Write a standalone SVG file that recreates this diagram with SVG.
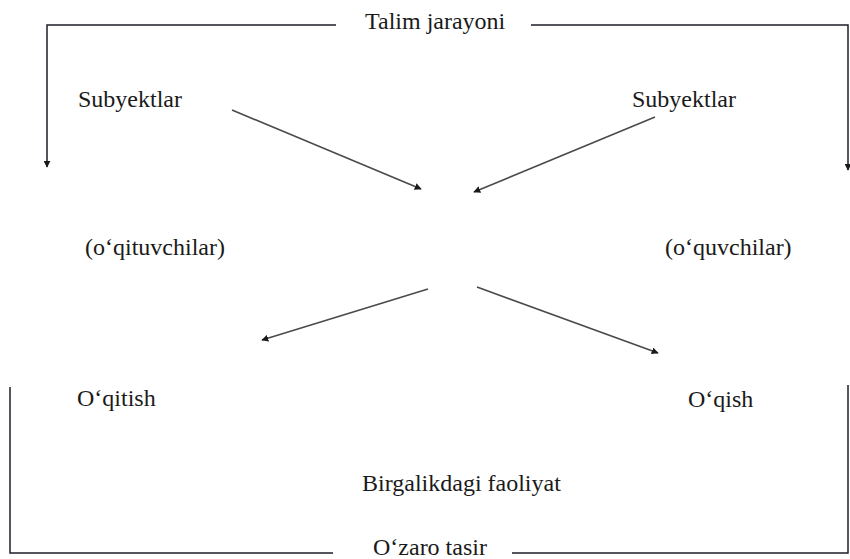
<svg xmlns="http://www.w3.org/2000/svg" width="850" height="559" viewBox="0 0 850 559">
<style>
text{font-family:'Liberation Serif','DejaVu Serif','Times New Roman',serif;font-size:24px;fill:#1a1a1a}
.frame{fill:none;stroke:#1e1e2a;stroke-width:1.5}
.conn{fill:none;stroke:#4a4a4a;stroke-width:1.6}
</style>
<defs>
<marker id="ah" viewBox="0 0 10 10" refX="9" refY="5" markerWidth="7" markerHeight="7" markerUnits="userSpaceOnUse" orient="auto">
<path d="M0,0 L10,5 L0,10 z" fill="#1a1a1a"/>
</marker>
</defs>
<rect width="850" height="559" fill="#fff"/>
<g id="connectors">
<path class="frame" d="M336,25 H47 V167" marker-end="url(#ah)"/>
<path class="frame" d="M531,25 H848 V170" marker-end="url(#ah)"/>
<path class="frame" d="M333,553 H10 V387"/>
<path class="frame" d="M512,553 H848 V385"/>
<line class="conn" x1="232" y1="110" x2="421" y2="189" marker-end="url(#ah)"/>
<line class="conn" x1="655" y1="117" x2="474" y2="192" marker-end="url(#ah)"/>
<line class="conn" x1="428" y1="289" x2="262" y2="340" marker-end="url(#ah)"/>
<line class="conn" x1="477" y1="287" x2="658" y2="353" marker-end="url(#ah)"/>
</g>
<g font-family="Liberation Serif, DejaVu Serif, serif" font-size="24">
<g id="title"><text x="365" y="29">Talim jarayoni</text></g>
<g id="subyektlar-left"><text x="78" y="107">Subyektlar</text></g>
<g id="subyektlar-right"><text x="632" y="107">Subyektlar</text></g>
<g id="oqituvchilar"><text x="85" y="255">(o‘qituvchilar)</text></g>
<g id="oquvchilar"><text x="665" y="255">(o‘quvchilar)</text></g>
<g id="oqitish"><text x="77" y="406">O‘qitish</text></g>
<g id="oqish"><text x="688" y="407">O‘qish</text></g>
<g id="birgalikdagi"><text x="362" y="491">Birgalikdagi faoliyat</text></g>
<g id="ozaro"><text x="373" y="555">O‘zaro tasir</text></g>
</g>
</svg>
